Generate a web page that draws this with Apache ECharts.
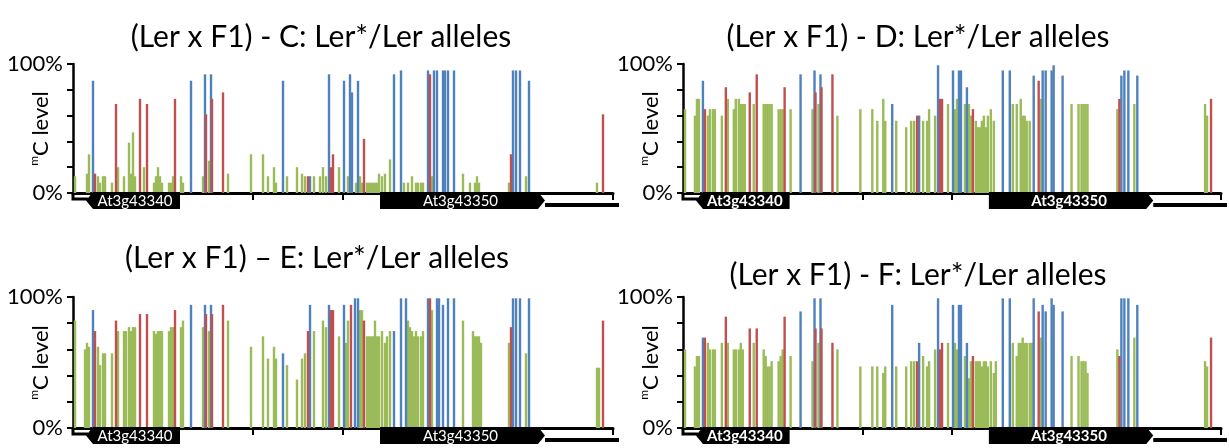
<!DOCTYPE html>
<html>
<head>
<meta charset="utf-8">
<script src="https://cdn.jsdelivr.net/npm/echarts@6/dist/echarts.min.js"></script>
<style>
  html, body { margin: 0; padding: 0; background: #fff; }
  #chart { width: 1229px; height: 448px; }
</style>
</head>
<body>
<div id="chart"></div>
<script>
// cytosine sites along the region (position units) and their context
const sitePos = [2, 12, 14, 16, 20, 22, 25, 27, 30, 32, 39, 43, 45, 51, 53, 56, 58, 60, 62, 67,
  71, 74, 81, 83, 85, 87, 89, 96, 98, 100, 102, 108, 110, 118, 130, 132, 133, 136, 138, 139,
  150, 155, 178, 190, 195, 201, 203, 210, 214, 224, 229, 232, 235, 237, 241, 245, 247, 250, 253, 256,
  258, 260, 266, 271, 273, 275, 277, 278, 279, 282, 283, 285, 287, 289, 291, 294, 296, 298, 300, 302,
  304, 306, 309, 312, 314, 317, 321, 328, 331, 333, 335, 337, 339, 341, 343, 345, 348, 350, 352, 355,
  357, 359, 361, 364, 366, 370, 372, 375, 381, 390, 397, 400, 402, 404, 406, 408, 436, 438, 440, 443,
  447, 453, 456, 524, 526, 530];
const siteCtx = ['CHH', 'CHH', 'CHH', 'CHH', 'CG', 'CHG', 'CHH', 'CHH', 'CHH', 'CHH', 'CHH', 'CHG', 'CHH', 'CHH', 'CHH', 'CHH', 'CHH', 'CHH', 'CHH', 'CHG',
  'CHH', 'CHG', 'CHH', 'CHH', 'CHH', 'CHH', 'CHH', 'CHH', 'CHH', 'CHH', 'CHG', 'CHH', 'CHH', 'CG', 'CHH', 'CG', 'CHG', 'CHH', 'CG', 'CHG',
  'CHG', 'CHH', 'CHH', 'CHH', 'CHH', 'CHH', 'CHH', 'CG', 'CHH', 'CHH', 'CHH', 'CHH', 'CHG', 'CG', 'CHH', 'CHH', 'CHH', 'CHH', 'CHH', 'CG',
  'CHG', 'CHG', 'CHH', 'CG', 'CHH', 'CHH', 'CG', 'CHG', 'CG', 'CG', 'CHH', 'CG', 'CHH', 'CHH', 'CHG', 'CHH', 'CHH', 'CHH', 'CHH', 'CHH',
  'CHH', 'CHH', 'CHH', 'CHH', 'CHH', 'CHH', 'CG', 'CG', 'CHH', 'CG', 'CHH', 'CHH', 'CHH', 'CHH', 'CHH', 'CHH', 'CHH', 'CHH', 'CG', 'CG',
  'CHG', 'CHH', 'CG', 'CG', 'CG', 'CG', 'CG', 'CG', 'CG', 'CHH', 'CHH', 'CHH', 'CHH', 'CHH', 'CHH', 'CHH', 'CHH', 'CHG', 'CG', 'CG',
  'CG', 'CHH', 'CG', 'CHH', 'CHH', 'CHG'];

// methylation level (%) per site for each panel, null = no data
const metC = [13, null, 15, 30, 87, 15, 13, 8, 13, 13, 8, 69, 20, 13, null, 39, 15, 47, 13, 73,
  20, 69, 8, 13, 20, 13, 8, 8, 8, 13, 73, 13, 8, 87, 13, 92, 61, 25, 92, 73,
  78, 15, 30, 30, 13, 20, 8, 87, 13, 20, 15, 13, 13, 13, 13, null, 13, 20, 13, 92,
  20, 30, 20, 87, null, 13, 92, null, 78, null, 8, 87, 13, 8, 42, 8, 8, 8, 8, 8,
  8, 15, 13, 15, null, 26, 92, 95, 8, null, 8, null, 13, null, 8, 8, 8, 8, null, 95,
  92, 13, 95, 95, null, 95, 95, 95, 95, 15, 8, null, 8, 13, 8, null, 8, 30, 95, 95,
  95, 13, 87, 8, null, 61];
const metD = [65, 60, 73, 73, 87, 65, 60, 65, 65, 65, 60, 82, 73, 65, 73, 73, 69, 69, 69, 78,
  69, 92, 69, 69, 69, 69, 69, 65, 65, 65, 82, 65, null, 92, 65, 95, 78, 69, 92, 82,
  92, 60, 65, 65, 56, 73, 56, 69, 56, 51, 56, 56, 60, 60, 56, 56, 65, null, 60, 99,
  73, 73, 69, 95, 65, 73, 95, null, 95, null, 69, 82, 69, 60, 65, 56, 51, 51, 56, 60,
  51, 60, 65, 56, null, null, 95, 95, 69, null, 69, null, 73, 60, 60, 56, 56, null, 91, null,
  87, 73, 95, 95, null, 95, 99, null, 91, 69, 69, 69, 69, 69, 69, null, 65, 73, 91, 95,
  95, 69, 91, 69, 60, 73];
const metE = [82, 60, 65, 62, 90, 74, 62, 48, 57, 57, 57, 82, 74, 74, 74, 77, 74, 77, 77, 87,
  null, 87, 74, 72, 74, 74, 74, 74, 77, 77, 90, 77, 82, 94, 77, 94, 87, 74, 94, 87,
  94, 82, 62, 70, 53, 62, 53, 57, 48, 37, 53, 57, 74, 94, 74, null, null, 82, 77, 94,
  90, 90, 70, 94, 65, 82, null, 94, null, 99, null, 99, 90, 90, 82, 70, 70, 70, 70, 82,
  70, 70, 74, 65, 70, 74, 74, 99, null, 99, 82, 77, 74, 70, 74, 70, 70, 74, null, 99,
  99, 90, null, 99, 99, 94, null, 99, 99, 82, null, 74, 70, 70, 70, 65, 65, 77, 99, 99,
  99, 57, 99, 46, 46, 82];
const metF = [60, 47, 55, 55, 69, 69, 65, 60, 60, 60, 65, 85, 65, 60, 60, 60, 65, 60, null, 76,
  65, 76, 60, 55, 47, 47, 51, 51, 55, 60, 85, 55, null, 89, 51, 99, 76, 65, 99, 76,
  65, 60, 47, 47, 47, 42, 47, 94, 47, 47, 51, 51, 51, 65, 55, 47, 51, null, 60, 99,
  60, 65, 65, 94, 65, 60, 94, null, 94, null, 55, 65, 38, 51, 55, 51, 51, 51, 47, 51,
  51, 47, 51, 42, 51, null, 99, 99, 65, null, 55, 65, 65, 69, 65, 65, 65, 65, 99, null,
  89, 69, 94, 89, null, 99, 94, null, 89, 55, 55, 51, 51, 51, 42, null, 60, 55, 99, 99,
  99, 69, 94, 51, 47, 69];

const panelTitles = ['(Ler x F1) - C: Ler*/Ler alleles', '(Ler x F1) - D: Ler*/Ler alleles',
  '(Ler x F1) \u2013 E: Ler*/Ler alleles', '(Ler x F1) - F: Ler*/Ler alleles'];

// gene models under the axis
const geneNames = ['At3g43340', 'At3g43350'];
const geneStart = [13, 307];
const geneEnd = [107, 472];
const geneStrand = [-1, 1];
const flankStart = [0, 472];
const flankEnd = [13, 546];

const ctxColors = { CG: '#4F81BD', CHG: '#C0504D', CHH: '#9BBB59' };
const ctxOrder = ['CHH', 'CG', 'CHG'];
const FONT = 'Lato, "Open Sans", sans-serif';

const panels = [
  { values: metC, left: 73, top: 64, width: 540, height: 129, tx: 316, ty: 17, bold: false },
  { values: metD, left: 683, top: 64, width: 538, height: 129, tx: 913, ty: 17, bold: true },
  { values: metE, left: 73, top: 297, width: 540, height: 131, tx: 312, ty: 238, bold: false },
  { values: metF, left: 683, top: 297, width: 538, height: 131, tx: 913, ty: 255, bold: true }
];

let chart = echarts.init(document.getElementById('chart'), null, { renderer: 'canvas' });

let grids = [], xAxes = [], yAxes = [], series = [], titles = [];

let renderFlank = function (params, api) {
  let a = api.coord([api.value(0), 0]);
  let b = api.coord([api.value(1), 0]);
  if (params.dataIndex === 0) {
    return {
      type: 'polyline',
      shape: { points: [[a[0], a[1]], [a[0], a[1] + 6], [b[0] + 2, a[1] + 6]] },
      style: { stroke: '#000', lineWidth: 3, fill: null }
    };
  }
  return { type: 'rect', shape: { x: a[0], y: a[1] + 10, width: b[0] - a[0], height: 4 }, style: { fill: '#000' } };
};

let makeGeneRenderer = function (bold) {
  return function (params, api) {
    let i = params.dataIndex;
    let a = api.coord([api.value(0), 0]);
    let b = api.coord([api.value(1), 0]);
    let dir = api.value(2);
    let y0 = a[1] - 1, y1 = a[1] + 16, ym = (y0 + y1) / 2, tip = 7;
    let pts = dir < 0
      ? [[a[0], ym], [a[0] + tip, y0], [b[0], y0], [b[0], y1], [a[0] + tip, y1]]
      : [[a[0], y0], [b[0] - tip, y0], [b[0], ym], [b[0] - tip, y1], [a[0], y1]];
    return {
      type: 'group',
      children: [
        { type: 'polygon', shape: { points: pts }, style: { fill: '#000' } },
        {
          type: 'text', x: (a[0] + b[0]) / 2 - dir * 2, y: ym + 1,
          style: {
            text: geneNames[i], fill: '#fff', align: 'center', verticalAlign: 'middle',
            font: (bold ? 'bold ' : '') + '15px ' + FONT
          }
        }
      ]
    };
  };
};

panels.forEach(function (p, i) {
  grids.push({ left: p.left, top: p.top, width: p.width, height: p.height, outerBoundsMode: 'none' });
  titles.push({
    text: panelTitles[i], left: p.tx, top: p.ty, textAlign: 'center',
    textStyle: { fontFamily: FONT, fontSize: 30, fontWeight: 'normal', color: '#000' }
  });
  xAxes.push({
    type: 'value', gridIndex: i, min: 0, max: 540, interval: 90,
    axisLine: { show: true, lineStyle: { color: '#000', width: 3 } },
    axisTick: { show: true, inside: false, length: 7, lineStyle: { color: '#000', width: 2 } },
    axisLabel: { show: false }, splitLine: { show: false }
  });
  yAxes.push({
    type: 'value', gridIndex: i, min: 0, max: 100, interval: 20,
    name: '{s|m}{n|C level}', nameLocation: 'middle', nameGap: 19, nameMoveOverlap: false,
    nameTextStyle: {
      color: '#000', fontFamily: FONT, fontSize: 22,
      rich: {
        s: { fontFamily: FONT, fontSize: 12, color: '#000', verticalAlign: 'top', lineHeight: 26 },
        n: { fontFamily: FONT, fontSize: 22, color: '#000', lineHeight: 26 }
      }
    },
    axisLine: { show: true, lineStyle: { color: '#000', width: 2.5 } },
    axisTick: { show: true, inside: false, length: 6, lineStyle: { color: '#000', width: 2 } },
    axisLabel: {
      color: '#000', fontFamily: FONT, fontSize: 22, margin: 10, padding: [13, 0, 0, 0],
      formatter: function (v) { return (v === 0 || v === 100) ? v + '%' : ''; }
    },
    splitLine: { show: false }
  });
  ctxOrder.forEach(function (ctx) {
    let data = [];
    sitePos.forEach(function (pos, k) {
      if (siteCtx[k] === ctx && p.values[k] != null) data.push([pos, p.values[k]]);
    });
    series.push({
      type: 'bar', name: ctx, xAxisIndex: i, yAxisIndex: i, data: data,
      barWidth: 2.4, barGap: '-100%', itemStyle: { color: ctxColors[ctx] }, silent: true
    });
  });
  series.push({
    type: 'custom', xAxisIndex: i, yAxisIndex: i, clip: false, silent: true, z: 5,
    data: flankStart.map(function (s, k) { return [s, flankEnd[k]]; }),
    encode: { x: [0, 1] }, renderItem: renderFlank
  });
  series.push({
    type: 'custom', xAxisIndex: i, yAxisIndex: i, clip: false, silent: true, z: 6,
    data: geneStart.map(function (s, k) { return [s, geneEnd[k], geneStrand[k]]; }),
    encode: { x: [0, 1] }, renderItem: makeGeneRenderer(p.bold)
  });
});

chart.setOption({
  animation: false,
  backgroundColor: '#fff',
  title: titles,
  grid: grids,
  xAxis: xAxes,
  yAxis: yAxes,
  series: series
});
</script>
</body>
</html>
